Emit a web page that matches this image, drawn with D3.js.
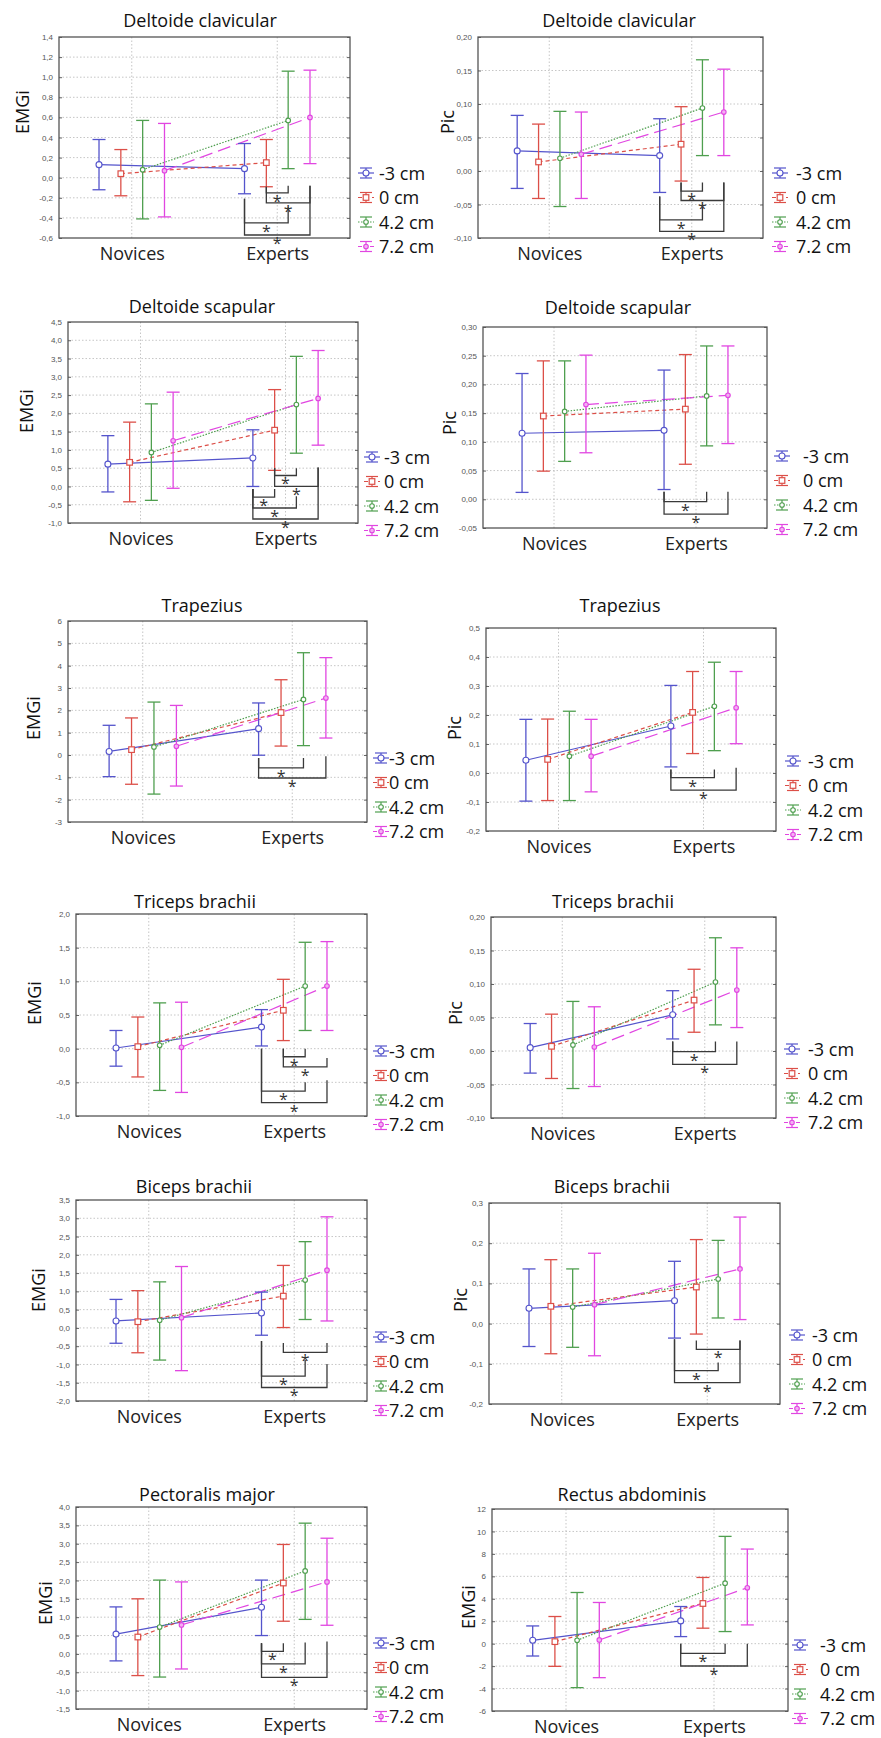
<!DOCTYPE html>
<html><head><meta charset="utf-8">
<script src="https://cdn.jsdelivr.net/npm/d3@7"></script>
<style>body{margin:0;background:#fff}svg{display:block}</style>
</head><body><svg id="c" width="881" height="1738"></svg>
<script>
// ---------------- DATA ----------------
const categories = ["Novices", "Experts"];
const seriesNames = ["-3 cm", "0 cm", "4.2 cm", "7.2 cm"];
const titles = ["Deltoide clavicular","Deltoide clavicular","Deltoide scapular","Deltoide scapular",
  "Trapezius","Trapezius","Triceps brachii","Triceps brachii","Biceps brachii","Biceps brachii",
  "Pectoralis major","Rectus abdominis"];
const yLabels = ["EMGi","Pic","EMGi","Pic","EMGi","Pic","EMGi","Pic","EMGi","Pic","EMGi","EMGi"];
const tickLabels = [
  ["-0,6","-0,4","-0,2","0,0","0,2","0,4","0,6","0,8","1,0","1,2","1,4"],
  ["-0,10","-0,05","0,00","0,05","0,10","0,15","0,20"],
  ["-1,0","-0,5","0,0","0,5","1,0","1,5","2,0","2,5","3,0","3,5","4,0","4,5"],
  ["-0,05","0,00","0,05","0,10","0,15","0,20","0,25","0,30"],
  ["-3","-2","-1","0","1","2","3","4","5","6"],
  ["-0,2","-0,1","0,0","0,1","0,2","0,3","0,4","0,5"],
  ["-1,0","-0,5","0,0","0,5","1,0","1,5","2,0"],
  ["-0,10","-0,05","0,00","0,05","0,10","0,15","0,20"],
  ["-2,0","-1,5","-1,0","-0,5","0,0","0,5","1,0","1,5","2,0","2,5","3,0","3,5"],
  ["-0,2","-0,1","0,0","0,1","0,2","0,3"],
  ["-1,5","-1,0","-0,5","0,0","0,5","1,0","1,5","2,0","2,5","3,0","3,5","4,0"],
  ["-6","-4","-2","0","2","4","6","8","10","12"]
];
// [panel][series] = [Novices, Experts]
const meanValues = [
  [[0.13,0.09],[0.04,0.15],[0.08,0.57],[0.07,0.60]],
  [[0.030,0.023],[0.0135,0.040],[0.019,0.094],[0.025,0.088]],
  [[0.61,0.78],[0.66,1.54],[0.93,2.24],[1.25,2.41]],
  [[0.115,0.120],[0.145,0.157],[0.153,0.180],[0.165,0.181]],
  [[0.16,1.18],[0.24,1.90],[0.36,2.49],[0.39,2.55]],
  [[0.044,0.162],[0.047,0.209],[0.058,0.230],[0.058,0.225]],
  [[0.01,0.32],[0.03,0.57],[0.05,0.93],[0.02,0.93]],
  [[0.005,0.054],[0.007,0.076],[0.009,0.103],[0.006,0.091]],
  [[0.19,0.41],[0.17,0.87],[0.21,1.31],[0.28,1.58]],
  [[0.038,0.057],[0.043,0.091],[0.041,0.111],[0.047,0.136]],
  [[0.54,1.27],[0.46,1.93],[0.73,2.26],[0.79,1.96]],
  [[0.30,2.03],[0.18,3.58],[0.30,5.39],[0.33,4.98]]
];
const lowerValues = [
  [[-0.12,-0.16],[-0.18,-0.09],[-0.41,0.09],[-0.39,0.14]],
  [[-0.026,-0.032],[-0.041,-0.015],[-0.053,0.023],[-0.041,0.023]],
  [[-0.15,0.0],[-0.42,0.44],[-0.38,0.91],[-0.05,1.13]],
  [[0.012,0.017],[0.049,0.061],[0.066,0.093],[0.081,0.097]],
  [[-0.97,-0.01],[-1.31,0.40],[-1.75,0.42],[-1.39,0.76]],
  [[-0.097,0.021],[-0.095,0.067],[-0.095,0.077],[-0.065,0.101]],
  [[-0.26,0.04],[-0.42,0.12],[-0.62,0.27],[-0.65,0.27]],
  [[-0.033,0.018],[-0.041,0.028],[-0.056,0.039],[-0.053,0.035]],
  [[-0.42,-0.20],[-0.68,0.01],[-0.88,0.23],[-1.17,0.19]],
  [[-0.057,-0.036],[-0.075,-0.026],[-0.059,0.014],[-0.080,0.010]],
  [[-0.19,0.50],[-0.59,0.89],[-0.63,0.94],[-0.41,0.78]],
  [[-1.10,0.63],[-2.02,1.38],[-3.92,1.08],[-3.03,1.67]]
];
const upperValues = [
  [[0.38,0.34],[0.28,0.38],[0.57,1.06],[0.54,1.07]],
  [[0.083,0.078],[0.070,0.096],[0.089,0.166],[0.088,0.152]],
  [[1.39,1.55],[1.76,2.65],[2.26,3.56],[2.58,3.72]],
  [[0.219,0.225],[0.241,0.252],[0.241,0.267],[0.251,0.267]],
  [[1.33,2.33],[1.66,3.37],[2.37,4.58],[2.22,4.36]],
  [[0.185,0.302],[0.186,0.350],[0.213,0.382],[0.185,0.350]],
  [[0.27,0.58],[0.47,1.03],[0.68,1.58],[0.69,1.59]],
  [[0.041,0.090],[0.055,0.122],[0.074,0.169],[0.066,0.154]],
  [[0.78,0.98],[1.02,1.71],[1.26,2.36],[1.68,3.04]],
  [[0.136,0.155],[0.159,0.209],[0.136,0.207],[0.175,0.265]],
  [[1.28,2.01],[1.50,2.98],[2.01,3.56],[1.96,3.15]],
  [[1.58,3.31],[2.42,5.90],[4.56,9.56],[3.67,8.43]]
];
// significance brackets (Experts): [seriesA, seriesB, legTopA, legTopB, level] in data units
const brackets = [
  [[1,2,-0.09,-0.08,-0.15],[1,3,-0.09,-0.08,-0.25],[0,2,-0.21,-0.29,-0.45],[0,3,-0.21,-0.08,-0.57]],
  [[1,2,-0.017,-0.017,-0.030],[1,3,-0.017,-0.017,-0.044],[0,2,-0.038,-0.049,-0.073],[0,3,-0.038,-0.017,-0.090]],
  [[1,2,0.5,0.5,0.3],[1,3,0.5,0.52,0.0],[0,1,-0.07,-0.07,-0.29],[0,2,-0.07,-0.27,-0.59],[0,3,-0.07,0.52,-0.89]],
  [[0,2,0.013,0.013,-0.004],[0,3,0.013,0.013,-0.026]],
  [[0,2,-0.13,-0.13,-0.58],[0,3,-0.13,-0.06,-1.03]],
  [[0,2,0.012,0.012,-0.016],[0,3,0.012,0.018,-0.059]],
  [[1,2,0.0,0.0,-0.12],[1,3,0.0,-0.14,-0.27],[0,2,0.0,-0.50,-0.63],[0,3,0.0,-0.47,-0.80]],
  [[0,2,0.014,0.014,-0.001],[0,3,0.014,0.014,-0.020]],
  [[1,3,-0.41,-0.41,-0.67],[0,2,-0.36,-0.88,-1.32],[0,3,-0.36,-0.99,-1.63]],
  [[1,3,-0.042,-0.042,-0.064],[0,2,-0.039,-0.097,-0.117],[0,3,-0.039,-0.042,-0.147]],
  [[0,1,0.29,0.29,0.07],[0,2,0.29,0.31,-0.27],[0,3,0.29,0.34,-0.64]],
  [[0,2,0,0,-0.86],[0,3,0,0,-1.99]]
];

// ---------------- LAYOUT ----------------
const boxes = [
  [59,37,350,238],[478,37,763,238],
  [68,322,358,523],[483,327,767,528],
  [68,621,367,822],[486,628,776,831],
  [76,914,367,1116],[491,917,776,1118],
  [76,1200,367,1401],[489,1203,780,1404],
  [76,1507,367,1709],[492,1509,788,1711]
];
const titlePos = [[200,27],[619,27],[202,313],[618,314],[202,612],[620,612],
  [195,908],[613,908],[194,1193],[612,1193],[207,1501],[632,1501]];
const yLabelPos = [[22,112],[447,122],[26,411],[449,423],[33,718],[454,728],
  [34,1003],[455,1013],[38,1290],[460,1300],[45,1603],[468,1607]];
// [symbol center x, text x, first item center y]
const legendPos = [[366,379,173],[780,796,173],[372,384,457],[782,803,456],[381,389,758],[793,808,761],
  [381,389,1051],[792,808,1049],[381,389,1337],[797,812,1335],[381,389,1643],[800,820,1645]];
const legendStep = 24.5;

const colors = ["#5454cc","#dc4f48","#4f9f4f","#e146e1"];
const dashes = [null,"4,3","1.5,1.5","13,6"];

const svg = d3.select("#c");
const FONT = "'Open Sans', sans-serif";

function marker(g, s, cx, cy) {
  const c = colors[s];
  if (s === 1) {
    g.append("rect").attr("x", cx-2.8).attr("y", cy-2.8).attr("width", 5.6).attr("height", 5.6)
      .attr("fill", "#fff").attr("stroke", c).attr("stroke-width", 1.2);
  } else {
    g.append("circle").attr("cx", cx).attr("cy", cy).attr("r", s === 0 ? 3 : 2.3)
      .attr("fill", s === 3 ? "#f3b0f3" : "#fff").attr("stroke", c).attr("stroke-width", 1.1);
  }
}

function drawPanel(p) {
  const [x0,y0,x1,y1] = boxes[p];
  const g = svg.append("g");
  const tv = tickLabels[p].map(s => +s.replace(",", "."));
  const y = d3.scaleLinear().domain([tv[0], tv[tv.length-1]]).range([y1, y0]);
  const x = d3.scalePoint().domain(categories).range([x0, x1]).padding(0.5);
  const w = x1 - x0;
  const sx = d3.scaleBand().domain(seriesNames).range([-0.15*w, 0.15*w]);
  const px = (ci, s) => x(categories[ci]) + sx(seriesNames[s]) + sx.bandwidth()/2;

  // grid
  g.selectAll(".hg").data(tv.slice(1, -1)).enter().append("line")
    .attr("x1", x0).attr("x2", x1).attr("y1", d => y(d)).attr("y2", d => y(d))
    .attr("stroke", "#b8b8b8").attr("stroke-width", 0.8).attr("stroke-dasharray", "1.5,2");
  g.selectAll(".vg").data(categories).enter().append("line")
    .attr("x1", d => x(d)).attr("x2", d => x(d)).attr("y1", y0).attr("y2", y1)
    .attr("stroke", "#b8b8b8").attr("stroke-width", 0.8).attr("stroke-dasharray", "1.5,2");

  // y axis
  const ay = g.append("g").attr("transform", `translate(${x0},0)`)
    .call(d3.axisLeft(y).tickValues(tv).tickFormat((d,i) => tickLabels[p][i]).tickSize(-3).tickPadding(6));
  ay.select(".domain").remove();
  ay.selectAll(".tick line").attr("stroke", "#666");
  ay.selectAll("text").attr("font-family", "Arial, 'Liberation Sans', sans-serif").attr("font-size", 8).attr("fill", "#555");
  const ar = g.append("g").attr("transform", `translate(${x1},0)`)
    .call(d3.axisRight(y).tickValues(tv).tickFormat("").tickSize(-3));
  ar.select(".domain").remove();
  ar.selectAll(".tick line").attr("stroke", "#666");

  // x axis labels
  const ax = g.append("g").attr("transform", `translate(0,${y1})`)
    .call(d3.axisBottom(x).tickSize(0).tickPadding(9));
  ax.select(".domain").remove();
  ax.selectAll("text").attr("font-family", FONT).attr("font-size", 18).attr("fill", "#222");

  // frame
  g.append("rect").attr("x", x0).attr("y", y0).attr("width", w).attr("height", y1-y0)
    .attr("fill", "none").attr("stroke", "#555").attr("stroke-width", 1.3);

  // connecting lines
  const line = d3.line().x(d => d[0]).y(d => d[1]);
  seriesNames.forEach((sn, s) => {
    const pts = categories.map((c, ci) => [px(ci, s), y(meanValues[p][s][ci])]);
    g.append("path").attr("d", line(pts)).attr("fill", "none").attr("stroke", colors[s])
      .attr("stroke-width", 1.2).attr("stroke-dasharray", dashes[s]);
  });

  // error bars
  const cap = 6.5;
  seriesNames.forEach((sn, s) => {
    categories.forEach((c, ci) => {
      const cx = px(ci, s);
      const lo = y(lowerValues[p][s][ci]), hi = y(upperValues[p][s][ci]);
      const col = colors[s];
      g.append("line").attr("x1", cx).attr("x2", cx).attr("y1", lo).attr("y2", hi).attr("stroke", col).attr("stroke-width", 1.3);
      g.append("line").attr("x1", cx-cap).attr("x2", cx+cap).attr("y1", lo).attr("y2", lo).attr("stroke", col).attr("stroke-width", 1.3);
      g.append("line").attr("x1", cx-cap).attr("x2", cx+cap).attr("y1", hi).attr("y2", hi).attr("stroke", col).attr("stroke-width", 1.3);
    });
  });
  seriesNames.forEach((sn, s) => {
    categories.forEach((c, ci) => marker(g, s, px(ci, s), y(meanValues[p][s][ci])));
  });

  // brackets
  brackets[p].forEach(([a, b, ta, tb, lv]) => {
    const xa = px(1, a), xb = px(1, b), ly = y(lv);
    g.append("path").attr("d", `M${xa},${y(ta)}V${ly}H${xb}V${y(tb)}`)
      .attr("fill", "none").attr("stroke", "#3a3a3a").attr("stroke-width", 1.3);
    g.append("text").attr("x", (xa + xb)/2).attr("y", ly + 14).attr("text-anchor", "middle")
      .attr("font-family", FONT).attr("font-size", 16).attr("fill", "#333").text("*");
  });

  // title
  g.append("text").attr("x", titlePos[p][0]).attr("y", titlePos[p][1]).attr("text-anchor", "middle")
    .attr("font-family", FONT).attr("font-size", 18).attr("fill", "#111").text(titles[p]);
  // y label
  g.append("text").attr("transform", `translate(${yLabelPos[p][0]},${yLabelPos[p][1]}) rotate(-90)`)
    .attr("text-anchor", "middle").attr("dominant-baseline", "central")
    .attr("font-family", FONT).attr("font-size", 18).attr("fill", "#111").text(yLabels[p]);

  // legend
  const [lsx, ltx, ly0] = legendPos[p];
  seriesNames.forEach((sn, s) => {
    const cy = ly0 + s * legendStep, col = colors[s];
    const lg = g.append("g");
    lg.append("line").attr("x1", lsx-8).attr("x2", lsx+8).attr("y1", cy).attr("y2", cy)
      .attr("stroke", col).attr("stroke-width", 1.2).attr("stroke-dasharray", s === 3 ? "4,2" : dashes[s]);
    lg.append("line").attr("x1", lsx).attr("x2", lsx).attr("y1", cy-5).attr("y2", cy+5).attr("stroke", col).attr("stroke-width", 1.2);
    lg.append("line").attr("x1", lsx-6).attr("x2", lsx+6).attr("y1", cy-5).attr("y2", cy-5).attr("stroke", col).attr("stroke-width", 1.2);
    lg.append("line").attr("x1", lsx-6).attr("x2", lsx+6).attr("y1", cy+5).attr("y2", cy+5).attr("stroke", col).attr("stroke-width", 1.2);
    marker(lg, s, lsx, cy);
    lg.append("text").attr("x", ltx).attr("y", cy + 6.5).attr("font-family", FONT).attr("font-size", 18)
      .attr("fill", "#111").text(sn);
  });
}

for (let p = 0; p < 12; p++) drawPanel(p);
</script>
</body></html>
